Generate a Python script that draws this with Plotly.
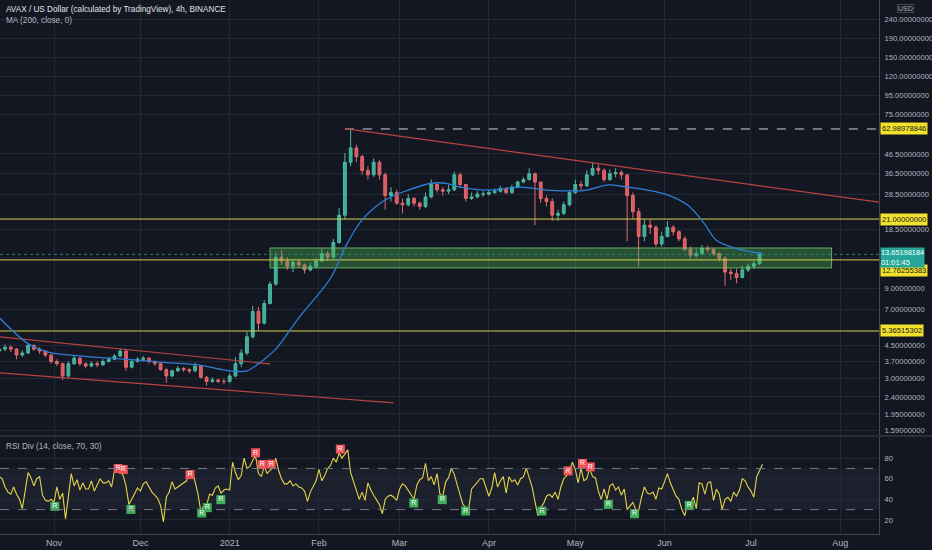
import numpy as np
import pandas as pd
import plotly.graph_objects as go

BG = "#131722"
GRID = "#242836"
TXT = "#b2b5be"
FONT = "Liberation Sans, Arial, sans-serif"

x_start, x_end = "2020-10-13 06:00", "2021-08-14 11:00"

# 2-day candles, Oct 13 2020 -> Jul 4 2021
first_open = 4.2
close_ = [4.3, 4.4, 4.3, 4.0, 4.1, 4.5, 4.3, 4.2, 4.0, 3.7,
          3.6, 3.1, 3.6, 3.85, 3.6, 3.5, 3.6, 3.55, 3.7, 3.8, 3.95, 4.2, 3.45, 3.7, 3.8,
          3.85, 3.7, 3.6, 3.35, 3.1, 3.3, 3.4, 3.35, 3.3, 3.5, 3.05, 2.9, 2.95, 2.9, 2.9,
          3.1, 3.6, 4.1, 5.0, 6.8, 5.9, 7.5, 9.5, 13.2, 12.6, 11.8, 12.4, 12.0, 11.3, 11.8, 12.6,
          13.8, 13.2, 15.8, 22, 42, 50, 45, 38, 36, 42, 36, 28, 29, 25.5,
          25, 27, 25.5, 24.5, 27.5, 32, 30, 29.5, 30, 36, 32, 27, 27.5, 28.5, 28.5,
          29, 29.5, 30.5, 29, 31, 33, 34, 36.5, 33, 27, 26, 22, 22.5, 25, 29,
          32, 31.5, 36, 39, 38, 34, 36.5, 37, 36, 28, 23, 17, 19.5, 19, 15.5, 17,
          19, 18, 16.5, 14.5, 13.5, 13.8, 14.7, 14.5, 13.8, 13.0, 11.0, 10.8, 10.3, 11.3, 11.8,
          12.2, 13.65198184]
high_ = [4.45, 4.55, 4.5, 4.35, 4.25, 4.6, 4.55, 4.4, 4.25, 4.05,
         3.8, 3.65, 3.7, 4.0, 3.9, 3.65, 3.7, 3.7, 3.8, 3.9, 4.05, 4.35, 4.25, 3.8, 3.9,
         3.95, 3.9, 3.75, 3.65, 3.4, 3.35, 3.5, 3.45, 3.4, 3.65, 3.55, 3.1, 3.05, 3.0, 3.0,
         3.2, 3.9, 4.3, 5.3, 7.3, 7.2, 7.8, 9.8, 14.0, 14.4, 13.2, 12.9, 12.8, 12.2, 12.3, 13.0,
         14.6, 14.2, 16.5, 24, 47, 62.99, 52, 46, 40, 44, 43, 37, 31, 30,
         27, 28.5, 27.5, 26, 29, 34, 33, 31, 32, 37.5, 37, 32, 29, 29.5, 29.5,
         30, 30.5, 31.5, 31, 32, 33.5, 35, 39, 37, 33, 28, 27, 23.5, 26, 30,
         34, 33.5, 38, 42, 41, 39, 38.5, 39, 38, 36, 29, 24, 21, 21, 19.5, 18,
         20.5, 19.5, 18.3, 17, 15, 14.5, 15.3, 15.2, 14.8, 14.0, 13.3, 11.5, 11.5, 11.9, 12.2,
         12.6, 13.9]
low_ = [4.1, 4.2, 4.15, 3.8, 3.9, 4.05, 4.2, 4.05, 3.9, 3.6,
        3.5, 2.95, 3.05, 3.55, 3.5, 3.4, 3.45, 3.45, 3.5, 3.65, 3.75, 3.9, 3.3, 3.4, 3.65,
        3.7, 3.6, 3.5, 3.3, 2.85, 3.05, 3.25, 3.25, 3.2, 3.25, 3.0, 2.75, 2.85, 2.85, 2.8,
        2.85, 3.05, 3.45, 4.0, 4.9, 5.4, 5.8, 7.4, 9.3, 12.0, 11.3, 11.0, 11.6, 10.8, 11.1, 11.5,
        12.4, 12.6, 13.0, 15.5, 21, 40, 42, 36, 34, 35, 34, 23.5, 26, 25,
        22.5, 24.5, 24.5, 23.5, 24, 27, 29, 28, 28.5, 29.5, 31, 26, 26.5, 27, 27.5,
        28, 28.5, 29, 28.5, 28.5, 30.5, 32.5, 33.5, 19.5, 25.5, 24.5, 20.5, 20.5, 22, 24.5,
        28.5, 30, 31, 35.5, 36, 33, 33.5, 35, 34, 16, 21, 11.7, 16, 17.5, 15, 15,
        16.8, 17.2, 16, 14.2, 13.0, 13.1, 13.6, 14.0, 13.4, 12.5, 9.3, 10, 9.6, 10.2, 11.0,
        11.4, 12.0]

ma_dates = ["2020-10-13", "2020-10-23", "2020-10-30", "2020-11-11", "2020-11-26", "2020-12-10",
            "2020-12-21", "2021-01-01", "2021-01-07", "2021-01-11", "2021-01-17", "2021-01-25",
            "2021-02-05", "2021-02-10", "2021-02-16", "2021-02-24", "2021-03-04", "2021-03-12",
            "2021-03-17", "2021-03-22", "2021-04-01", "2021-04-12", "2021-04-21", "2021-04-27",
            "2021-05-05", "2021-05-12", "2021-05-19", "2021-05-26", "2021-06-02", "2021-06-09",
            "2021-06-15", "2021-06-19", "2021-06-25", "2021-07-05"]
ma_vals = [6.3, 4.6, 4.15, 3.95, 3.8, 3.65, 3.55, 3.3, 3.3, 3.6, 4.3, 6.3,
           10.2, 14.8, 20.8, 26.5, 29.9, 32.5, 32.5, 31, 29.9, 31, 29.9, 29.6,
           29.9, 31.8, 31, 29.9, 28.2, 24.9, 19.7, 16.2, 14.8, 13.8]

# daily RSI(14) from Oct 13 2020
rsi = [62, 60, 52, 47, 45, 52, 45, 40, 31, 48,
       66, 61, 53, 60, 62, 44, 39, 38, 40, 37,
       52, 40, 46, 21, 42, 65, 53, 59, 49, 56,
       50, 50, 58, 48, 54, 60, 56, 56, 58, 52,
       68, 70, 67, 63, 53, 35, 40, 46, 51, 48,
       55, 57, 52, 47, 44, 41, 34, 18, 42, 47,
       57, 50, 52, 54, 56, 58, 64, 68, 57, 45,
       28, 34, 34, 45, 44, 51, 53, 46, 49, 50,
       49, 76, 66, 59, 63, 80, 70, 72, 78, 82,
       65, 62, 72, 65, 68, 71, 80, 68, 60, 55,
       55, 58, 53, 55, 52, 51, 48, 38, 47, 53,
       58, 69, 58, 63, 70, 73, 80, 76, 85, 80,
       84, 88, 66, 58, 50, 40, 47, 39, 56, 49,
       44, 40, 35, 26, 40, 43, 44, 42, 39, 50,
       55, 53, 49, 45, 40, 54, 59, 61, 75, 58,
       62, 54, 65, 45, 43, 57, 61, 70, 64, 54,
       44, 35, 32, 31, 50, 53, 56, 60, 60, 52,
       43, 51, 66, 52, 58, 62, 46, 62, 57, 59,
       54, 60, 62, 70, 62, 52, 38, 24, 32, 36,
       43, 45, 42, 47, 40, 52, 60, 63, 68, 76,
       69, 56, 70, 58, 60, 70, 62, 61, 48, 40,
       50, 40, 53, 55, 49, 52, 44, 50, 30, 33,
       37, 30, 29, 42, 52, 46, 45, 47, 40, 51,
       50, 57, 65, 56, 50, 43, 40, 30, 24, 36,
       35, 42, 31, 56, 55, 45, 56, 57, 39, 50,
       45, 30, 40, 42, 38, 47, 43, 49, 60, 58,
       52, 48, 42, 62, 68, 74]

bear_dates = ["2020-11-23 07:00", "2020-11-25 01:00", "2020-12-18 05:00", "2021-01-10",
              "2021-01-12 07:00", "2021-01-15 10:00", "2021-02-08 10:00", "2021-04-28 12:00",
              "2021-05-03 12:00", "2021-05-06 05:00"]
bear_vals = [69.9, 69, 64, 85.2, 73.8, 74.1, 88.8, 67.6, 74.8, 71.5]
bull_dates = ["2020-11-01 07:00", "2020-11-27 17:00", "2020-12-22 07:00", "2020-12-24 05:00",
              "2020-12-28 22:00", "2021-03-05 22:00", "2021-03-15 19:00", "2021-03-23 22:00",
              "2021-04-19 10:00", "2021-05-12 12:00", "2021-05-21 14:00", "2021-06-09 14:00"]
bull_vals = [33.2, 30.2, 26.7, 31.9, 39.7, 36.4, 39.7, 28.6, 28.6, 35.1, 26, 34.1]

# drawings
ath = 62.98978846
ath_from = "2021-02-10"
down_dates = ["2021-02-10", x_end]
down_px = [63.2, 25.8]
chan_top_dates = [x_start, "2021-01-15"]
chan_top_px = [4.99, 3.59]
chan_bot_dates = [x_start, "2021-02-27"]
chan_bot_px = [3.22, 2.23]
levels = [21.0, 12.76255383, 5.36515302]
zone_dates = ["2021-01-15", "2021-07-29"]
zone_px = [11.57, 14.76]
last_px = 13.65198184

# ticks hidden behind the price labels are left out
price_ticks = [300, 240, 190, 150, 120, 95, 75, 46.5, 36.5, 28.5, 18.5,
               9, 7, 4.5, 3.7, 3.0, 2.4, 1.95, 1.59]
month_ticks = ["2020-11-01", "2020-12-01", "2021-01-01", "2021-02-01", "2021-03-01",
               "2021-04-01", "2021-05-01", "2021-06-01", "2021-07-01", "2021-08-01"]
month_text = ["Nov", "Dec", "2021", "Feb", "Mar", "Apr", "May", "Jun", "Jul", "Aug"]

cdates = pd.date_range("2020-10-13", periods=len(close_), freq="2D")
open_ = [first_open] + close_[:-1]
rdates = pd.date_range("2020-10-13", periods=len(rsi), freq="D")

fig = go.Figure()

# zone box
fig.add_trace(go.Scatter(
    x=[zone_dates[0], zone_dates[1], zone_dates[1], zone_dates[0], zone_dates[0]],
    y=[zone_px[0], zone_px[0], zone_px[1], zone_px[1], zone_px[0]],
    fill="toself", fillcolor="rgba(76,175,80,0.38)", mode="lines",
    line=dict(color="rgba(120,200,110,0.8)", width=1), hoverinfo="skip"))

# horizontal levels
for lv in levels:
    fig.add_trace(go.Scatter(x=[x_start, x_end], y=[lv, lv], mode="lines",
                             line=dict(color="#d6d24a", width=1), hoverinfo="skip"))
fig.add_trace(go.Scatter(x=[x_start, x_end], y=[last_px, last_px], mode="lines",
                         line=dict(color="rgba(38,166,154,0.7)", width=1, dash="dot"),
                         hoverinfo="skip"))
fig.add_trace(go.Scatter(x=[ath_from, x_end], y=[ath, ath], mode="lines",
                         line=dict(color="#d1d4dc", width=1, dash="dash"), hoverinfo="skip"))

# trend lines
for dx, py in [(down_dates, down_px), (chan_top_dates, chan_top_px), (chan_bot_dates, chan_bot_px)]:
    fig.add_trace(go.Scatter(x=dx, y=py, mode="lines",
                             line=dict(color="#b8433f", width=1.2), hoverinfo="skip"))

fig.add_trace(go.Candlestick(
    x=cdates, open=open_, high=high_, low=low_, close=close_,
    increasing=dict(line=dict(color="#4fb7a3", width=1), fillcolor="#3fae98"),
    decreasing=dict(line=dict(color="#e06a6e", width=1), fillcolor="#e0585c"),
    whiskerwidth=0, hoverinfo="skip"))

fig.add_trace(go.Scatter(x=ma_dates, y=ma_vals, mode="lines", line_shape="spline",
                         line=dict(color="#2f7ed8", width=1.3), hoverinfo="skip"))

# RSI pane
fig.add_trace(go.Scatter(x=rdates, y=rsi, yaxis="y2", mode="lines",
                         line=dict(color="#e3d34a", width=1.1), hoverinfo="skip"))
fig.add_trace(go.Scatter(x=bear_dates, y=bear_vals, yaxis="y2", mode="markers+text",
                         marker=dict(symbol="square", size=9, color="#f0545a"),
                         text=["R"] * len(bear_vals), textposition="middle center",
                         textfont=dict(size=7, color="white", family=FONT),
                         hoverinfo="skip"))
fig.add_trace(go.Scatter(x=bull_dates, y=bull_vals, yaxis="y2", mode="markers+text",
                         marker=dict(symbol="square", size=9, color="#3fae5a"),
                         text=["R"] * len(bull_vals), textposition="middle center",
                         textfont=dict(size=7, color="white", family=FONT),
                         hoverinfo="skip"))

shapes = [
    dict(type="rect", xref="paper", x0=0, x1=1, yref="y2", y0=30, y1=70,
         fillcolor="rgba(150,150,180,0.07)", line_width=0, layer="below"),
    dict(type="line", xref="paper", x0=0, x1=1, yref="y2", y0=70, y1=70,
         line=dict(color="#787b86", width=1, dash="dash")),
    dict(type="line", xref="paper", x0=0, x1=1, yref="y2", y0=30, y1=30,
         line=dict(color="#787b86", width=1, dash="dash")),
    dict(type="line", xref="paper", x0=0, x1=1.06, yref="paper", y0=0.1835, y1=0.1835,
         line=dict(color="#2a2e39", width=2)),
]

annotations = [
    dict(text="AVAX / US Dollar (calculated by TradingView), 4h, BINANCE", xref="paper",
         yref="paper", x=0.004, y=0.983, xanchor="left", yanchor="middle", showarrow=False,
         font=dict(size=8.2, color="#e0e3eb", family=FONT)),
    dict(text="MA (200, close, 0)", xref="paper", yref="paper", x=0.004, y=0.962,
         xanchor="left", yanchor="middle", showarrow=False,
         font=dict(size=8.2, color="#b2b5be", family=FONT)),
    dict(text="RSI Div (14, close, 70, 30)", xref="paper", yref="paper", x=0.004, y=0.163,
         xanchor="left", yanchor="middle", showarrow=False,
         font=dict(size=8.2, color="#b2b5be", family=FONT)),
    dict(text="USD", xref="paper", yref="paper", x=1, xshift=26, y=0.985, xanchor="center",
         yanchor="middle", showarrow=False, bordercolor="#434651", borderwidth=1, borderpad=0,
         font=dict(size=7, color=TXT, family=FONT)),
]
for val, shift in [(ath, 0), (levels[0], 0), (levels[1], -11), (levels[2], 0)]:
    annotations.append(dict(text=f"{val:.8f}", xref="paper", yref="y", x=1, xshift=1,
                            y=np.log10(val), yshift=shift, xanchor="left", yanchor="middle",
                            showarrow=False, bgcolor="#f2e22b", borderpad=1,
                            font=dict(size=7.6, color="#131722", family=FONT)))
annotations.append(dict(text=f"{last_px:.8f}<br>01:01:45", xref="paper", yref="y", x=1, xshift=1,
                        y=np.log10(last_px), yshift=-3, xanchor="left", yanchor="middle",
                        showarrow=False, bgcolor="#26a69a", borderpad=0, align="left",
                        font=dict(size=7.4, color="white", family=FONT)))

fig.update_layout(
    width=932, height=550, margin=dict(l=0, r=53, t=0, b=16),
    paper_bgcolor=BG, plot_bgcolor=BG, showlegend=False,
    font=dict(family=FONT, color=TXT),
    shapes=shapes, annotations=annotations,
    xaxis=dict(type="date", range=[x_start, x_end], anchor="y2", rangeslider=dict(visible=False),
               tickvals=month_ticks, ticktext=month_text, showgrid=True, gridcolor=GRID,
               showline=True, linecolor="#434651", ticks="", zeroline=False,
               tickfont=dict(size=9, color=TXT)),
    yaxis=dict(type="log", domain=[0.1854, 1], range=[np.log10(1.509), np.log10(303.6)],
               side="right", anchor="x", tickvals=price_ticks,
               ticktext=[f"{v:.8f}" for v in price_ticks], showgrid=True, gridcolor=GRID,
               showline=True, linecolor="#434651", ticks="", ticklabelstandoff=3,
               zeroline=False, tickfont=dict(size=7.6, color=TXT)),
    yaxis2=dict(domain=[0, 0.1816], range=[6.3, 100.5], side="right", anchor="x",
                tickvals=[20, 40, 60, 80], showgrid=True, gridcolor=GRID,
                showline=True, linecolor="#434651", ticks="", ticklabelstandoff=3,
                zeroline=False, tickfont=dict(size=7.6, color=TXT)),
)

fig.write_html("out.html", config={"displayModeBar": False},
               post_script="document.body.style.margin='0';"
                           "document.body.style.background='#131722';")
